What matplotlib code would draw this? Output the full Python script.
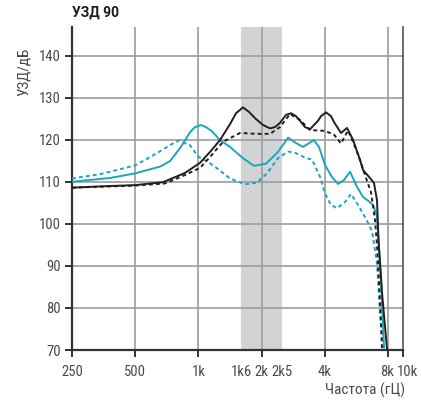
import numpy as np
import matplotlib
matplotlib.use("Agg")
import matplotlib.pyplot as plt
from matplotlib.transforms import ScaledTranslation

# frequencies in Hz, levels in dB
black_solid_f = [250, 340, 500, 678, 863, 1018, 1136, 1267, 1414, 1511,
                 1631, 1742, 1881, 2031, 2193, 2317, 2447, 2614, 2761, 2916,
                 3048, 3220, 3401, 3712, 3837, 4053, 4282, 4425, 4778, 5102,
                 5450, 5885, 6080, 6567, 6860, 7092, 7210, 7490, 7913]
black_solid_db = [108.6, 108.9, 109.2, 109.9, 112.1, 114.5, 117.1, 119.9, 123.7, 126.3,
                  127.7, 126.6, 124.9, 123.5, 122.7, 123.0, 124.0, 125.9, 126.3, 125.6,
                  124.5, 123.0, 122.5, 124.5, 125.6, 126.5, 125.6, 124.2, 121.6, 122.8,
                  120.0, 115.2, 112.8, 110.9, 109.7, 105.6, 96.1, 83.7, 70.2]

black_dash_f = [250, 500, 693, 863, 1018, 1136, 1310, 1578, 1881, 2193,
                2447, 2730, 3048, 3401, 4008, 4425, 4778, 5160, 5450, 5885,
                6285, 6640, 6937, 7092, 7326, 7490]
black_dash_db = [108.6, 109.1, 109.6, 111.6, 113.3, 115.9, 119.5, 121.6, 121.4, 121.4,
                 123.0, 126.1, 124.7, 122.3, 122.1, 121.2, 119.1, 122.2, 119.5, 115.2,
                 110.9, 107.5, 100.9, 94.9, 81.8, 70.4]

cyan_solid_f = [250, 379, 500, 656, 732, 817, 863, 912, 963, 1029,
                1087, 1161, 1267, 1414, 1631, 1840, 2100, 2394, 2672, 2916,
                3149, 3553, 3753, 4008, 4329, 4623, 4937, 5274, 5693, 6080,
                6425, 6787, 7068, 7210, 7408, 7657]
cyan_solid_db = [110.0, 110.9, 112.0, 113.6, 114.9, 118.0, 119.8, 121.8, 123.0, 123.5,
                 123.0, 122.0, 119.9, 118.3, 115.6, 113.8, 114.3, 117.1, 120.5, 119.2,
                 118.3, 119.9, 118.3, 114.0, 111.1, 109.5, 110.4, 112.4, 108.8, 106.4,
                 105.5, 104.5, 102.1, 96.1, 86.6, 70.6]

cyan_dash_f = [250, 340, 500, 635, 749, 808, 912, 996, 1136, 1226,
               1414, 1667, 1901, 2122, 2394, 2672, 2916, 3255, 3476, 3795,
               4008, 4282, 4573, 4993, 5332, 5757, 6285, 6713, 7092, 7326, 7572]
cyan_dash_db = [110.8, 111.8, 113.9, 116.8, 119.0, 119.8, 118.7, 116.0, 114.4, 113.2,
                110.8, 109.4, 109.8, 112.0, 115.6, 117.2, 116.8, 115.6, 115.3, 111.2,
                107.2, 104.5, 103.7, 105.2, 107.1, 104.5, 101.2, 98.3, 90.6, 78.7, 70.6]

# axis setup
x_right = 9430  # where the reference puts its "10k" label
xtick_vals = [250, 500, 1000, 1600, 2000, 2500, 4000, 8000, x_right]
xtick_labels = ["250", "500", "1k", "1k6", "2k", "2k5", "4k", "8k", "10k"]
vgrid_vals = [500, 1000, 2000, 4000, 8000]
ytick_vals = [70, 80, 90, 100, 110, 120, 130, 140]
band = (1600, 2500)

black = "#231f20"
cyan = "#1aa7bd"
grid_col = "#9c9c9c"
txt_col = "#4a4a4a"
narrow = ["Roboto Condensed", "DejaVu Sans"]

fig = plt.figure(figsize=(4.21, 4.01), dpi=100)
ax = fig.add_axes([72 / 421, 1 - 350 / 401, 331 / 421, 323 / 401])
ax.set_xscale("log")
ax.set_xlim(250, x_right)
ax.set_ylim(70, 146.8)

ax.axvspan(*band, color="#d1d3d4", lw=0, zorder=0)
for v in vgrid_vals:
    ax.axvline(v, color=grid_col, lw=1.2, zorder=1)
for v in ytick_vals[1:]:
    ax.axhline(v, color=grid_col, lw=1.2, zorder=1)

ax.plot(cyan_dash_f, cyan_dash_db, color=cyan, lw=1.4, ls=(0, (2, 1.6)), zorder=3)
ax.plot(cyan_solid_f, cyan_solid_db, color=cyan, lw=1.4, zorder=3)
ax.plot(black_dash_f, black_dash_db, color=black, lw=1.4, ls=(0, (2, 1.6)), zorder=4)
ax.plot(black_solid_f, black_solid_db, color=black, lw=1.4, zorder=4)

ax.spines["top"].set_visible(False)
ax.spines["left"].set_color("#333333")
ax.spines["left"].set_linewidth(1.6)
ax.spines["bottom"].set_color("#333333")
ax.spines["bottom"].set_linewidth(1.6)
ax.spines["right"].set_color("#555555")
ax.spines["right"].set_linewidth(1.2)

ax.set_xticks(xtick_vals)
ax.set_xticklabels(xtick_labels)
ax.xaxis.set_minor_locator(matplotlib.ticker.NullLocator())
ax.set_yticks(ytick_vals)
ax.tick_params(axis="both", direction="out", length=5, width=1.3,
               color="#222222", labelcolor=txt_col, labelsize=10.5, pad=3)
ax.tick_params(axis="x", pad=6)
for i, lab in enumerate(xtick_labels):
    if lab in ("1k6", "2k5"):
        ax.xaxis.get_major_ticks()[i].tick1line.set_visible(False)
for lab in ax.get_xticklabels() + ax.get_yticklabels():
    lab.set_family(narrow)
    lab.set_stretch("condensed")

# nudge the crowded 8k / 10k labels apart like the reference
xlabs = ax.get_xticklabels()
xlabs[-1].set_transform(xlabs[-1].get_transform() + ScaledTranslation(3 / 72, 0, fig.dpi_scale_trans))
xlabs[-2].set_transform(xlabs[-2].get_transform() + ScaledTranslation(-1 / 72, 0, fig.dpi_scale_trans))

fig.text(72 / 421, 1 - 13 / 401, "УЗД 90", fontsize=10, fontweight="bold",
         color="#1a1a1a", va="center", ha="left", family=["Roboto", "DejaVu Sans"])
fig.text(24 / 421, 1 - 72 / 401, "УЗД/дБ", rotation=90, fontsize=11,
         color=txt_col, va="center", ha="center", family=narrow, stretch="condensed")
fig.text(405 / 421, 1 - 390 / 401, "Частота (гЦ)", fontsize=11,
         color=txt_col, va="center", ha="right", family=narrow, stretch="condensed")

fig.savefig("out.png", dpi=100)
